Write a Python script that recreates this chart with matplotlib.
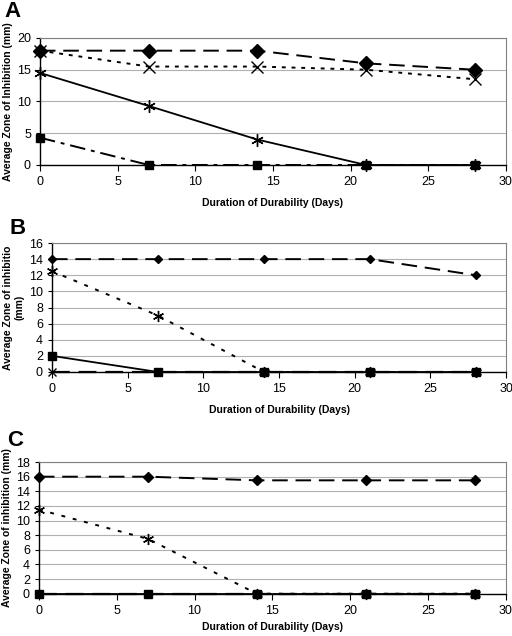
import numpy as np
import matplotlib
matplotlib.use("Agg")
import matplotlib.pyplot as plt

plt.rcParams['font.family'] = ['Liberation Sans', 'DejaVu Sans']

# durability days
days = [0, 7, 14, 21, 28]

# panel A
a_diamond = [18, 18, 18, 16, 15]
a_cross = [18, 15.5, 15.5, 15, 13.5]
a_star = [14.5, 9.3, 4, 0, 0]
a_square = [4.3, 0, 0, 0, 0]

# panel B
b_diamond = [14, 14, 14, 14, 12]
b_star = [12.5, 7, 0, 0, 0]
b_square = [2, 0, 0, 0, 0]
b_cross = [0, 0, 0, 0, 0]

# panel C
c_diamond = [16, 16, 15.5, 15.5, 15.5]
c_star = [11.5, 7.5, 0, 0, 0]
c_square = [0, 0, 0, 0, 0]
c_dash = [0, 0, 0, 0, 0]

STAR = (6, 2, 0)


def style_axes(ax, ymax, ystep, ylabel, letter, lx, ly, xpad=7):
    ax.set_xlim(0, 30)
    ax.set_ylim(0, ymax)
    ax.set_xticks(range(0, 31, 5))
    ax.set_yticks(np.arange(0, ymax + 0.1, ystep))
    ax.yaxis.grid(True, color='#b0b0b0', linewidth=0.8)
    ax.set_axisbelow(True)
    for s in ['top', 'right']:
        ax.spines[s].set_color('#808080')
    for s in ['left', 'bottom']:
        ax.spines[s].set_color('black')
        ax.spines[s].set_linewidth(1.0)
    ax.tick_params(axis='both', labelsize=9, length=3, direction='out', width=0.8)
    ax.tick_params(axis='x', length=4, pad=4)
    ax.set_xlabel('Duration of Durability (Days)', fontsize=7.5, fontweight='bold', labelpad=xpad)
    ax.set_ylabel(ylabel, fontsize=7.5, fontweight='bold', labelpad=3)
    ax.figure.text(lx, ly, letter, fontsize=16, fontweight='bold', va='center', ha='left')
    for l in ax.get_lines():
        l.set_clip_on(False)


fig = plt.figure(figsize=(5.12, 6.36), dpi=100)

# A
axA = fig.add_axes([0.078, 0.7406, 0.910, 0.1997])
axA.plot(days, a_diamond, color='black', lw=1.4, dashes=(8, 4), marker='D', ms=7)
axA.plot(days, a_cross, color='black', lw=1.4, dashes=(2, 3), marker='x', ms=8, mew=1)
axA.plot(days, a_star, color='black', lw=1.3, marker=STAR, ms=9, mew=1)
axA.plot(days, a_square, color='black', lw=1.4, dashes=(8, 3, 2, 3), marker='s', ms=6)
style_axes(axA, 20, 5, 'Average Zone of Inhibition (mm)', 'A', 0.008, 0.982)

# B
axB = fig.add_axes([0.1016, 0.4151, 0.887, 0.2028])
axB.plot(days, b_diamond, color='black', lw=1.4, dashes=(8, 4), marker='D', ms=4.5)
axB.plot(days, b_star, color='black', lw=1.4, dashes=(2, 4), marker=STAR, ms=8, mew=1)
axB.plot(days, b_cross, color='black', lw=1.6, dashes=(8, 4), marker='x', ms=6, mew=1)
axB.plot(days, b_square, color='black', lw=1.3, marker='s', ms=6)
style_axes(axB, 16, 2, 'Average Zone of inhibitio\n(mm)', 'B', 0.018, 0.64)

# C
axC = fig.add_axes([0.076, 0.0665, 0.912, 0.207])
axC.plot(days, c_diamond, color='black', lw=1.4, dashes=(8, 4), marker='D', ms=5)
axC.plot(days, c_star, color='black', lw=1.4, dashes=(2, 4), marker=STAR, ms=8, mew=1)
axC.plot(days, c_dash, color='black', lw=1.6, dashes=(8, 4))
axC.plot(days, c_square, color='black', lw=1.3, marker='s', ms=6)
style_axes(axC, 18, 2, 'Average Zone of inhibition (mm)', 'C', 0.014, 0.307, xpad=4)

fig.savefig('out.png', dpi=100)
